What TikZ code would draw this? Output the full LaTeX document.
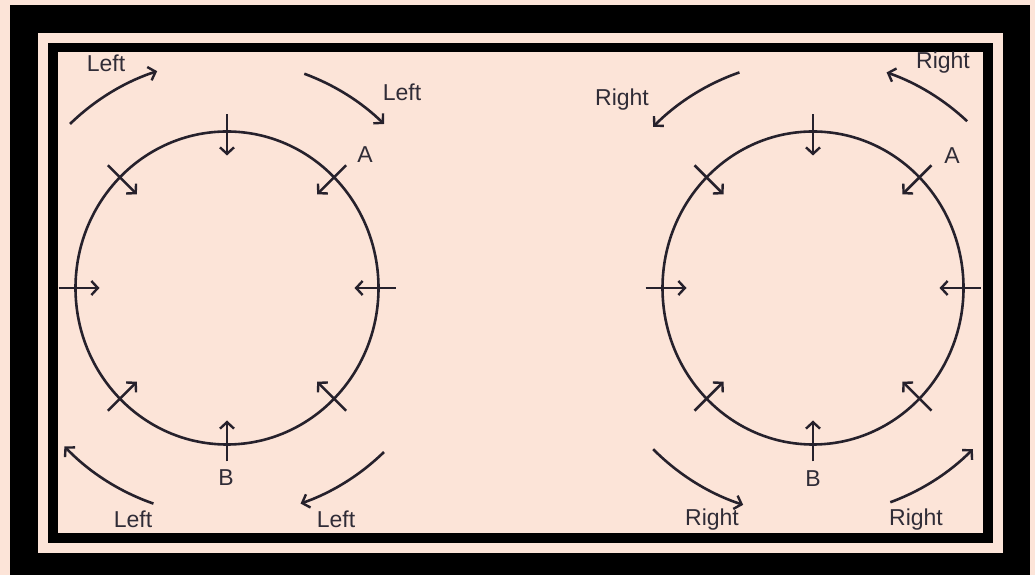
\documentclass[tikz,border=0pt]{standalone}
\usepackage{fontspec}
\setmainfont{Liberation Sans}
\usetikzlibrary{arrows.meta,calc}
\definecolor{peach}{HTML}{FCE4D8}
\definecolor{ink}{HTML}{26212C}
\definecolor{txt}{HTML}{302C37}
\tikzset{
  ring/.style={draw=ink, line width=2.6pt},
  radial/.style={draw=ink, line width=2.5pt, -{Straight Barb[length=6.5pt,width=14pt,line width=2.4pt]}},
  turn/.style={draw=ink, line width=2.6pt, -{Straight Barb[length=6.5pt,width=14pt,line width=2.4pt]}},
  lbl/.style={text=txt, font=\fontsize{23}{27}\selectfont, inner sep=0pt},
}
\begin{document}
\begin{tikzpicture}[x=1pt,y=1pt]
\useasboundingbox (0,0) rectangle (1035,575);
% frames
\fill[peach] (0,0) rectangle (1035,575);
\fill[black] (10,0) rectangle (1030,570);
\fill[peach] (38,22) rectangle (1003,542);
\fill[black] (48,32) rectangle (993,532);
\fill[peach] (58,42) rectangle (983,523);

% centres
\coordinate (CL) at (227,287);
\coordinate (CR) at (813,287);

% circles
\draw[ring] (CL) ellipse [x radius=151.5, y radius=156.5];
\draw[ring] (CR) ellipse [x radius=150.5, y radius=156.5];

% radial arrows
\foreach \c/\rx in {CL/151.5, CR/150.5}{
  \foreach \a in {0,45,90,135,180,225,270,315}{
    \draw[radial] ($(\c)+(\a:\rx+17 and 173.5)$) -- ($(\c)+(\a:\rx-24 and 132.5)$);
  }
}

% curved arrows, left figure (clockwise)
\draw[turn] ($(CL)+(134:226 and 228)$) arc[start angle=134, end angle=108, x radius=226, y radius=228];
\draw[turn] ($(CL)+(70:226 and 228)$) arc[start angle=70, end angle=46, x radius=226, y radius=228];
\draw[turn] ($(CL)+(-46:226 and 228)$) arc[start angle=-46, end angle=-71, x radius=226, y radius=228];
\draw[turn] ($(CL)+(-109:226 and 228)$) arc[start angle=-109, end angle=-136, x radius=226, y radius=228];

% curved arrows, right figure (counter-clockwise)
\draw[turn] ($(CR)+(109:226 and 228)$) arc[start angle=109, end angle=135, x radius=226, y radius=228];
\draw[turn] ($(CR)+(47:226 and 228)$) arc[start angle=47, end angle=71, x radius=226, y radius=228];
\draw[turn] ($(CR)+(-135:226 and 228)$) arc[start angle=-135, end angle=-108, x radius=226, y radius=228];
\draw[turn] ($(CR)+(-70:226 and 228)$) arc[start angle=-70, end angle=-45, x radius=226, y radius=228];

% labels
\node[lbl] (l1) at (106,512) {Left};
\node[lbl] (l2) at (402,483) {Left};
\node[lbl] (l3) at (133,56) {Left};
\node[lbl] (l4) at (336,56) {Left};
\node[lbl] (la) at (365,420) {A};
\node[lbl] (lb) at (226,97) {B};

\node[lbl] (r1) at (622,475) {Right};
\node[lbl] (r2) at (943,512) {Right};
\node[lbl] (r3) at (712,55) {Right};
\node[lbl] (r4) at (916,55) {Right};
\node[lbl] (ra) at (952,419) {A};
\node[lbl] (rb) at (813,96) {B};
\end{tikzpicture}
\end{document}
